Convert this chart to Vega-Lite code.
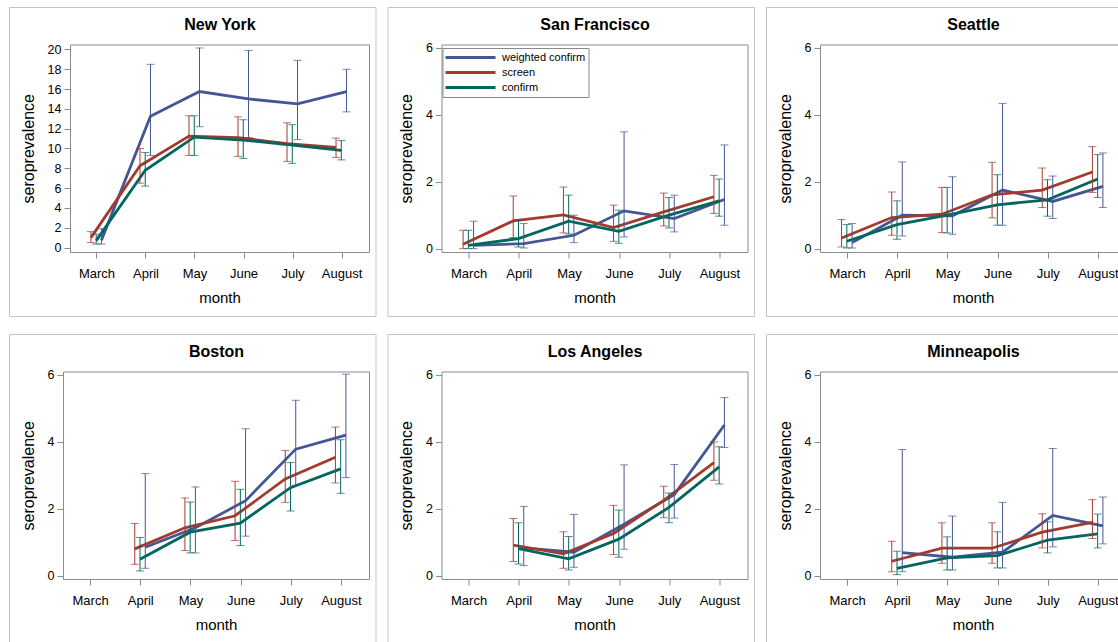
{
  "$schema": "https://vega.github.io/schema/vega-lite/v6.json",
  "description": "Seroprevalence by month and city",
  "padding": {"left": 8, "top": 6, "right": 0, "bottom": 0},
  "background": "white",
  "datasets": {
    "sero": [
      {"city": "New York", "month": "March", "series": "weighted confirm", "v": 0.75, "lo": 0.35, "hi": 1.9},
      {"city": "New York", "month": "April", "series": "weighted confirm", "v": 13.25, "lo": 9.3, "hi": 18.5},
      {"city": "New York", "month": "May", "series": "weighted confirm", "v": 15.75, "lo": 12.2, "hi": 20.15},
      {"city": "New York", "month": "June", "series": "weighted confirm", "v": 15.0, "lo": 11.1, "hi": 19.9},
      {"city": "New York", "month": "July", "series": "weighted confirm", "v": 14.5, "lo": 10.9, "hi": 18.9},
      {"city": "New York", "month": "August", "series": "weighted confirm", "v": 15.75, "lo": 13.7, "hi": 18.0},
      {"city": "New York", "month": "March", "series": "screen", "v": 1.0, "lo": 0.5, "hi": 1.6},
      {"city": "New York", "month": "April", "series": "screen", "v": 8.25, "lo": 6.5, "hi": 10.0},
      {"city": "New York", "month": "May", "series": "screen", "v": 11.25, "lo": 9.3, "hi": 13.3},
      {"city": "New York", "month": "June", "series": "screen", "v": 11.1, "lo": 9.2, "hi": 13.2},
      {"city": "New York", "month": "July", "series": "screen", "v": 10.5, "lo": 8.7, "hi": 12.6},
      {"city": "New York", "month": "August", "series": "screen", "v": 10.1, "lo": 9.1, "hi": 11.05},
      {"city": "New York", "month": "March", "series": "confirm", "v": 0.7, "lo": 0.35, "hi": 1.35},
      {"city": "New York", "month": "April", "series": "confirm", "v": 7.8, "lo": 6.2, "hi": 9.6},
      {"city": "New York", "month": "May", "series": "confirm", "v": 11.15, "lo": 9.3, "hi": 13.3},
      {"city": "New York", "month": "June", "series": "confirm", "v": 10.85, "lo": 9.0, "hi": 12.9},
      {"city": "New York", "month": "July", "series": "confirm", "v": 10.35, "lo": 8.5, "hi": 12.4},
      {"city": "New York", "month": "August", "series": "confirm", "v": 9.8, "lo": 8.85, "hi": 10.8},

      {"city": "San Francisco", "month": "March", "series": "weighted confirm", "v": 0.1, "lo": 0.0, "hi": 0.82},
      {"city": "San Francisco", "month": "April", "series": "weighted confirm", "v": 0.15, "lo": 0.02, "hi": 0.75},
      {"city": "San Francisco", "month": "May", "series": "weighted confirm", "v": 0.4, "lo": 0.18, "hi": 1.0},
      {"city": "San Francisco", "month": "June", "series": "weighted confirm", "v": 1.13, "lo": 0.35, "hi": 3.49},
      {"city": "San Francisco", "month": "July", "series": "weighted confirm", "v": 0.9, "lo": 0.5, "hi": 1.6},
      {"city": "San Francisco", "month": "August", "series": "weighted confirm", "v": 1.47, "lo": 0.7, "hi": 3.1},
      {"city": "San Francisco", "month": "March", "series": "screen", "v": 0.13, "lo": 0.0, "hi": 0.55},
      {"city": "San Francisco", "month": "April", "series": "screen", "v": 0.83, "lo": 0.33, "hi": 1.57},
      {"city": "San Francisco", "month": "May", "series": "screen", "v": 1.01, "lo": 0.47, "hi": 1.84},
      {"city": "San Francisco", "month": "June", "series": "screen", "v": 0.63, "lo": 0.22, "hi": 1.3},
      {"city": "San Francisco", "month": "July", "series": "screen", "v": 1.1, "lo": 0.68, "hi": 1.66},
      {"city": "San Francisco", "month": "August", "series": "screen", "v": 1.55, "lo": 1.05, "hi": 2.19},
      {"city": "San Francisco", "month": "March", "series": "confirm", "v": 0.1, "lo": 0.0, "hi": 0.55},
      {"city": "San Francisco", "month": "April", "series": "confirm", "v": 0.3, "lo": 0.05, "hi": 0.87},
      {"city": "San Francisco", "month": "May", "series": "confirm", "v": 0.82, "lo": 0.44, "hi": 1.6},
      {"city": "San Francisco", "month": "June", "series": "confirm", "v": 0.52, "lo": 0.16, "hi": 1.15},
      {"city": "San Francisco", "month": "July", "series": "confirm", "v": 1.0, "lo": 0.62, "hi": 1.53},
      {"city": "San Francisco", "month": "August", "series": "confirm", "v": 1.43, "lo": 0.97, "hi": 2.08},

      {"city": "Seattle", "month": "March", "series": "weighted confirm", "v": 0.18, "lo": 0.02, "hi": 0.75},
      {"city": "Seattle", "month": "April", "series": "weighted confirm", "v": 1.0, "lo": 0.38, "hi": 2.59},
      {"city": "Seattle", "month": "May", "series": "weighted confirm", "v": 0.98, "lo": 0.43, "hi": 2.15},
      {"city": "Seattle", "month": "June", "series": "weighted confirm", "v": 1.75, "lo": 0.7, "hi": 4.34},
      {"city": "Seattle", "month": "July", "series": "weighted confirm", "v": 1.41, "lo": 0.9, "hi": 2.17},
      {"city": "Seattle", "month": "August", "series": "weighted confirm", "v": 1.86, "lo": 1.23, "hi": 2.86},
      {"city": "Seattle", "month": "March", "series": "screen", "v": 0.32, "lo": 0.05, "hi": 0.87},
      {"city": "Seattle", "month": "April", "series": "screen", "v": 0.93, "lo": 0.4, "hi": 1.69},
      {"city": "Seattle", "month": "May", "series": "screen", "v": 1.03, "lo": 0.48, "hi": 1.83},
      {"city": "Seattle", "month": "June", "series": "screen", "v": 1.61, "lo": 0.92, "hi": 2.58},
      {"city": "Seattle", "month": "July", "series": "screen", "v": 1.75, "lo": 1.23, "hi": 2.41},
      {"city": "Seattle", "month": "August", "series": "screen", "v": 2.29, "lo": 1.68, "hi": 3.05},
      {"city": "Seattle", "month": "March", "series": "confirm", "v": 0.22, "lo": 0.02, "hi": 0.72},
      {"city": "Seattle", "month": "April", "series": "confirm", "v": 0.72, "lo": 0.28, "hi": 1.43},
      {"city": "Seattle", "month": "May", "series": "confirm", "v": 1.0, "lo": 0.47, "hi": 1.83},
      {"city": "Seattle", "month": "June", "series": "confirm", "v": 1.31, "lo": 0.7, "hi": 2.21},
      {"city": "Seattle", "month": "July", "series": "confirm", "v": 1.46, "lo": 0.97, "hi": 2.06},
      {"city": "Seattle", "month": "August", "series": "confirm", "v": 2.08, "lo": 1.53, "hi": 2.81},

      {"city": "Boston", "month": "April", "series": "weighted confirm", "v": 0.85, "lo": 0.22, "hi": 3.05},
      {"city": "Boston", "month": "May", "series": "weighted confirm", "v": 1.43, "lo": 0.68, "hi": 2.65},
      {"city": "Boston", "month": "June", "series": "weighted confirm", "v": 2.24, "lo": 1.18, "hi": 4.39},
      {"city": "Boston", "month": "July", "series": "weighted confirm", "v": 3.78, "lo": 2.7, "hi": 5.24},
      {"city": "Boston", "month": "August", "series": "weighted confirm", "v": 4.2, "lo": 2.93, "hi": 6.02},
      {"city": "Boston", "month": "April", "series": "screen", "v": 0.8, "lo": 0.34, "hi": 1.56},
      {"city": "Boston", "month": "May", "series": "screen", "v": 1.43, "lo": 0.75, "hi": 2.32},
      {"city": "Boston", "month": "June", "series": "screen", "v": 1.79, "lo": 1.05, "hi": 2.82},
      {"city": "Boston", "month": "July", "series": "screen", "v": 2.89, "lo": 2.19, "hi": 3.74},
      {"city": "Boston", "month": "August", "series": "screen", "v": 3.54, "lo": 2.77, "hi": 4.44},
      {"city": "Boston", "month": "April", "series": "confirm", "v": 0.49, "lo": 0.14, "hi": 1.14},
      {"city": "Boston", "month": "May", "series": "confirm", "v": 1.3, "lo": 0.68, "hi": 2.2},
      {"city": "Boston", "month": "June", "series": "confirm", "v": 1.57, "lo": 0.9, "hi": 2.58},
      {"city": "Boston", "month": "July", "series": "confirm", "v": 2.63, "lo": 1.93, "hi": 3.38},
      {"city": "Boston", "month": "August", "series": "confirm", "v": 3.19, "lo": 2.46, "hi": 4.06},

      {"city": "Los Angeles", "month": "April", "series": "weighted confirm", "v": 0.83, "lo": 0.3, "hi": 2.07},
      {"city": "Los Angeles", "month": "May", "series": "weighted confirm", "v": 0.7, "lo": 0.25, "hi": 1.83},
      {"city": "Los Angeles", "month": "June", "series": "weighted confirm", "v": 1.54, "lo": 0.79, "hi": 3.31},
      {"city": "Los Angeles", "month": "July", "series": "weighted confirm", "v": 2.42, "lo": 1.72, "hi": 3.32},
      {"city": "Los Angeles", "month": "August", "series": "weighted confirm", "v": 4.5, "lo": 3.83, "hi": 5.32},
      {"city": "Los Angeles", "month": "April", "series": "screen", "v": 0.91, "lo": 0.42, "hi": 1.71},
      {"city": "Los Angeles", "month": "May", "series": "screen", "v": 0.65, "lo": 0.22, "hi": 1.31},
      {"city": "Los Angeles", "month": "June", "series": "screen", "v": 1.26, "lo": 0.63, "hi": 2.1},
      {"city": "Los Angeles", "month": "July", "series": "screen", "v": 2.25, "lo": 1.73, "hi": 2.67},
      {"city": "Los Angeles", "month": "August", "series": "screen", "v": 3.38, "lo": 2.85, "hi": 4.0},
      {"city": "Los Angeles", "month": "April", "series": "confirm", "v": 0.81, "lo": 0.35, "hi": 1.58},
      {"city": "Los Angeles", "month": "May", "series": "confirm", "v": 0.5, "lo": 0.17, "hi": 1.17},
      {"city": "Los Angeles", "month": "June", "series": "confirm", "v": 1.09, "lo": 0.55, "hi": 1.96},
      {"city": "Los Angeles", "month": "July", "series": "confirm", "v": 2.04, "lo": 1.58, "hi": 2.47},
      {"city": "Los Angeles", "month": "August", "series": "confirm", "v": 3.25, "lo": 2.74, "hi": 3.85},

      {"city": "Minneapolis", "month": "April", "series": "weighted confirm", "v": 0.69, "lo": 0.12, "hi": 3.77},
      {"city": "Minneapolis", "month": "May", "series": "weighted confirm", "v": 0.55, "lo": 0.17, "hi": 1.78},
      {"city": "Minneapolis", "month": "June", "series": "weighted confirm", "v": 0.7, "lo": 0.23, "hi": 2.19},
      {"city": "Minneapolis", "month": "July", "series": "weighted confirm", "v": 1.8, "lo": 0.86, "hi": 3.8},
      {"city": "Minneapolis", "month": "August", "series": "weighted confirm", "v": 1.49, "lo": 0.95, "hi": 2.35},
      {"city": "Minneapolis", "month": "April", "series": "screen", "v": 0.43, "lo": 0.12, "hi": 1.03},
      {"city": "Minneapolis", "month": "May", "series": "screen", "v": 0.82, "lo": 0.37, "hi": 1.58},
      {"city": "Minneapolis", "month": "June", "series": "screen", "v": 0.82, "lo": 0.37, "hi": 1.58},
      {"city": "Minneapolis", "month": "July", "series": "screen", "v": 1.3, "lo": 0.83, "hi": 1.85},
      {"city": "Minneapolis", "month": "August", "series": "screen", "v": 1.59, "lo": 1.11, "hi": 2.27},
      {"city": "Minneapolis", "month": "April", "series": "confirm", "v": 0.22, "lo": 0.03, "hi": 0.73},
      {"city": "Minneapolis", "month": "May", "series": "confirm", "v": 0.53, "lo": 0.17, "hi": 1.16},
      {"city": "Minneapolis", "month": "June", "series": "confirm", "v": 0.6, "lo": 0.23, "hi": 1.31},
      {"city": "Minneapolis", "month": "July", "series": "confirm", "v": 1.06, "lo": 0.68, "hi": 1.61},
      {"city": "Minneapolis", "month": "August", "series": "confirm", "v": 1.25, "lo": 0.83, "hi": 1.84}
    ]
  },
  "data": {"name": "sero"},
  "columns": 3,
  "spacing": {"row": 16, "column": 10.5},
  "concat": [
    {
      "width": 366.5, "height": 309,
      "transform": [{"filter": "datum.city == 'New York'"}],
      "layer": [
        {"mark": {"type": "line", "strokeWidth": 2.8},
         "encoding": {
           "x": {"field": "month", "type": "ordinal", "sort": ["March", "April", "May", "June", "July", "August"], "scale": {"type": "band", "domain": ["March", "April", "May", "June", "July", "August"], "range": [61, 360], "paddingInner": 1, "paddingOuter": 0.55}, "axis": {"orient": "bottom", "offset": -64, "title": "month", "labelAngle": 0}},
           "xOffset": {"field": "series", "scale": {"type": "band", "domain": ["screen", "confirm", "weighted confirm"], "range": [-6, 4.5], "paddingInner": 1, "paddingOuter": 0}},
           "y": {"field": "v", "type": "quantitative", "scale": {"domain": [-0.45, 20.5], "range": [245, 37.5], "nice": false, "zero": false}, "axis": {"orient": "left", "offset": -61, "values": [0, 2, 4, 6, 8, 10, 12, 14, 16, 18, 20], "title": "seroprevalence"}},
           "color": {"field": "series", "type": "nominal", "scale": {"domain": ["weighted confirm", "screen", "confirm"], "range": ["#445694", "#A23A2E", "#01665E"]}, "legend": null}
         }},
        {"mark": {"type": "rule", "strokeWidth": 1},
         "encoding": {
           "x": {"field": "month", "type": "ordinal", "sort": ["March", "April", "May", "June", "July", "August"], "scale": {"type": "band", "domain": ["March", "April", "May", "June", "July", "August"], "range": [61, 360], "paddingInner": 1, "paddingOuter": 0.55}, "axis": {"orient": "top", "offset": -37.5, "labels": false, "ticks": false, "title": "New York", "titleFontSize": 16, "titleFontWeight": "bold", "titlePadding": 12}},
           "xOffset": {"field": "series", "scale": {"type": "band", "domain": ["screen", "confirm", "weighted confirm"], "range": [-6, 4.5], "paddingInner": 1, "paddingOuter": 0}},
           "y": {"field": "lo", "type": "quantitative", "axis": {"orient": "right", "offset": -6.5, "labels": false, "ticks": false, "title": null}},
           "y2": {"field": "hi"},
           "color": {"field": "series", "type": "nominal", "legend": null}
         }},
        {"mark": {"type": "tick", "orient": "horizontal", "size": 8, "thickness": 1},
         "encoding": {
           "x": {"field": "month", "type": "ordinal", "sort": ["March", "April", "May", "June", "July", "August"], "scale": {"type": "band", "domain": ["March", "April", "May", "June", "July", "August"], "range": [61, 360], "paddingInner": 1, "paddingOuter": 0.55}, "axis": null},
           "xOffset": {"field": "series", "scale": {"type": "band", "domain": ["screen", "confirm", "weighted confirm"], "range": [-6, 4.5], "paddingInner": 1, "paddingOuter": 0}},
           "y": {"field": "lo", "type": "quantitative", "axis": null},
           "color": {"field": "series", "type": "nominal", "legend": null}
         }},
        {"mark": {"type": "tick", "orient": "horizontal", "size": 8, "thickness": 1},
         "encoding": {
           "x": {"field": "month", "type": "ordinal", "sort": ["March", "April", "May", "June", "July", "August"], "scale": {"type": "band", "domain": ["March", "April", "May", "June", "July", "August"], "range": [61, 360], "paddingInner": 1, "paddingOuter": 0.55}, "axis": null},
           "xOffset": {"field": "series", "scale": {"type": "band", "domain": ["screen", "confirm", "weighted confirm"], "range": [-6, 4.5], "paddingInner": 1, "paddingOuter": 0}},
           "y": {"field": "hi", "type": "quantitative", "axis": null},
           "color": {"field": "series", "type": "nominal", "legend": null}
         }}
      ],
      "resolve": {"axis": {"x": "independent", "y": "independent"}}
    },
    {
      "width": 366.5, "height": 309,
      "transform": [{"filter": "datum.city == 'San Francisco'"}],
      "layer": [
        {"mark": {"type": "line", "strokeWidth": 2.8},
         "encoding": {
           "x": {"field": "month", "type": "ordinal", "sort": ["March", "April", "May", "June", "July", "August"], "scale": {"type": "band", "domain": ["March", "April", "May", "June", "July", "August"], "range": [54, 360], "paddingInner": 1, "paddingOuter": 0.55}, "axis": {"orient": "bottom", "offset": -64, "title": "month", "labelAngle": 0}},
           "xOffset": {"field": "series", "scale": {"type": "band", "domain": ["screen", "confirm", "weighted confirm"], "range": [-6, 4.5], "paddingInner": 1, "paddingOuter": 0}},
           "y": {"field": "v", "type": "quantitative", "scale": {"domain": [-0.1, 6.1], "range": [245, 37.5], "nice": false, "zero": false}, "axis": {"orient": "left", "offset": -54, "values": [0, 2, 4, 6], "title": "seroprevalence"}},
           "color": {"field": "series", "type": "nominal", "scale": {"domain": ["weighted confirm", "screen", "confirm"], "range": ["#445694", "#A23A2E", "#01665E"]},
             "legend": {"orient": "none", "legendX": 55, "legendY": 41, "title": null, "direction": "vertical", "strokeColor": "#8a8a8a", "padding": 3, "rowPadding": 2, "symbolType": "M-5,0H5", "symbolSize": 100, "symbolStrokeWidth": 3, "symbolOffset": 18.5, "labelOffset": 25, "labelFontSize": 11, "labelColor": "#000"}}
         }},
        {"mark": {"type": "rule", "strokeWidth": 1},
         "encoding": {
           "x": {"field": "month", "type": "ordinal", "sort": ["March", "April", "May", "June", "July", "August"], "scale": {"type": "band", "domain": ["March", "April", "May", "June", "July", "August"], "range": [54, 360], "paddingInner": 1, "paddingOuter": 0.55}, "axis": {"orient": "top", "offset": -37.5, "labels": false, "ticks": false, "title": "San Francisco", "titleFontSize": 16, "titleFontWeight": "bold", "titlePadding": 12}},
           "xOffset": {"field": "series", "scale": {"type": "band", "domain": ["screen", "confirm", "weighted confirm"], "range": [-6, 4.5], "paddingInner": 1, "paddingOuter": 0}},
           "y": {"field": "lo", "type": "quantitative", "axis": {"orient": "right", "offset": -6.5, "labels": false, "ticks": false, "title": null}},
           "y2": {"field": "hi"},
           "color": {"field": "series", "type": "nominal", "legend": null}
         }},
        {"mark": {"type": "tick", "orient": "horizontal", "size": 8, "thickness": 1},
         "encoding": {
           "x": {"field": "month", "type": "ordinal", "sort": ["March", "April", "May", "June", "July", "August"], "scale": {"type": "band", "domain": ["March", "April", "May", "June", "July", "August"], "range": [54, 360], "paddingInner": 1, "paddingOuter": 0.55}, "axis": null},
           "xOffset": {"field": "series", "scale": {"type": "band", "domain": ["screen", "confirm", "weighted confirm"], "range": [-6, 4.5], "paddingInner": 1, "paddingOuter": 0}},
           "y": {"field": "lo", "type": "quantitative", "axis": null},
           "color": {"field": "series", "type": "nominal", "legend": null}
         }},
        {"mark": {"type": "tick", "orient": "horizontal", "size": 8, "thickness": 1},
         "encoding": {
           "x": {"field": "month", "type": "ordinal", "sort": ["March", "April", "May", "June", "July", "August"], "scale": {"type": "band", "domain": ["March", "April", "May", "June", "July", "August"], "range": [54, 360], "paddingInner": 1, "paddingOuter": 0.55}, "axis": null},
           "xOffset": {"field": "series", "scale": {"type": "band", "domain": ["screen", "confirm", "weighted confirm"], "range": [-6, 4.5], "paddingInner": 1, "paddingOuter": 0}},
           "y": {"field": "hi", "type": "quantitative", "axis": null},
           "color": {"field": "series", "type": "nominal", "legend": null}
         }}
      ],
      "resolve": {"axis": {"x": "independent", "y": "independent"}}
    },
    {
      "width": 366.5, "height": 309,
      "transform": [{"filter": "datum.city == 'Seattle'"}],
      "layer": [
        {"mark": {"type": "line", "strokeWidth": 2.8},
         "encoding": {
           "x": {"field": "month", "type": "ordinal", "sort": ["March", "April", "May", "June", "July", "August"], "scale": {"type": "band", "domain": ["March", "April", "May", "June", "July", "August"], "range": [54, 360], "paddingInner": 1, "paddingOuter": 0.55}, "axis": {"orient": "bottom", "offset": -64, "title": "month", "labelAngle": 0}},
           "xOffset": {"field": "series", "scale": {"type": "band", "domain": ["screen", "confirm", "weighted confirm"], "range": [-6, 4.5], "paddingInner": 1, "paddingOuter": 0}},
           "y": {"field": "v", "type": "quantitative", "scale": {"domain": [-0.1, 6.1], "range": [245, 37.5], "nice": false, "zero": false}, "axis": {"orient": "left", "offset": -54, "values": [0, 2, 4, 6], "title": "seroprevalence"}},
           "color": {"field": "series", "type": "nominal", "scale": {"domain": ["weighted confirm", "screen", "confirm"], "range": ["#445694", "#A23A2E", "#01665E"]}, "legend": null}
         }},
        {"mark": {"type": "rule", "strokeWidth": 1},
         "encoding": {
           "x": {"field": "month", "type": "ordinal", "sort": ["March", "April", "May", "June", "July", "August"], "scale": {"type": "band", "domain": ["March", "April", "May", "June", "July", "August"], "range": [54, 360], "paddingInner": 1, "paddingOuter": 0.55}, "axis": {"orient": "top", "offset": -37.5, "labels": false, "ticks": false, "title": "Seattle", "titleFontSize": 16, "titleFontWeight": "bold", "titlePadding": 12}},
           "xOffset": {"field": "series", "scale": {"type": "band", "domain": ["screen", "confirm", "weighted confirm"], "range": [-6, 4.5], "paddingInner": 1, "paddingOuter": 0}},
           "y": {"field": "lo", "type": "quantitative", "axis": {"orient": "right", "offset": -6.5, "labels": false, "ticks": false, "title": null}},
           "y2": {"field": "hi"},
           "color": {"field": "series", "type": "nominal", "legend": null}
         }},
        {"mark": {"type": "tick", "orient": "horizontal", "size": 8, "thickness": 1},
         "encoding": {
           "x": {"field": "month", "type": "ordinal", "sort": ["March", "April", "May", "June", "July", "August"], "scale": {"type": "band", "domain": ["March", "April", "May", "June", "July", "August"], "range": [54, 360], "paddingInner": 1, "paddingOuter": 0.55}, "axis": null},
           "xOffset": {"field": "series", "scale": {"type": "band", "domain": ["screen", "confirm", "weighted confirm"], "range": [-6, 4.5], "paddingInner": 1, "paddingOuter": 0}},
           "y": {"field": "lo", "type": "quantitative", "axis": null},
           "color": {"field": "series", "type": "nominal", "legend": null}
         }},
        {"mark": {"type": "tick", "orient": "horizontal", "size": 8, "thickness": 1},
         "encoding": {
           "x": {"field": "month", "type": "ordinal", "sort": ["March", "April", "May", "June", "July", "August"], "scale": {"type": "band", "domain": ["March", "April", "May", "June", "July", "August"], "range": [54, 360], "paddingInner": 1, "paddingOuter": 0.55}, "axis": null},
           "xOffset": {"field": "series", "scale": {"type": "band", "domain": ["screen", "confirm", "weighted confirm"], "range": [-6, 4.5], "paddingInner": 1, "paddingOuter": 0}},
           "y": {"field": "hi", "type": "quantitative", "axis": null},
           "color": {"field": "series", "type": "nominal", "legend": null}
         }}
      ],
      "resolve": {"axis": {"x": "independent", "y": "independent"}}
    },
    {
      "width": 366.5, "height": 309,
      "transform": [{"filter": "datum.city == 'Boston'"}],
      "layer": [
        {"mark": {"type": "line", "strokeWidth": 2.8},
         "encoding": {
           "x": {"field": "month", "type": "ordinal", "sort": ["March", "April", "May", "June", "July", "August"], "scale": {"type": "band", "domain": ["March", "April", "May", "June", "July", "August"], "range": [54, 360], "paddingInner": 1, "paddingOuter": 0.55}, "axis": {"orient": "bottom", "offset": -64, "title": "month", "labelAngle": 0}},
           "xOffset": {"field": "series", "scale": {"type": "band", "domain": ["screen", "confirm", "weighted confirm"], "range": [-6, 4.5], "paddingInner": 1, "paddingOuter": 0}},
           "y": {"field": "v", "type": "quantitative", "scale": {"domain": [-0.1, 6.1], "range": [245, 37.5], "nice": false, "zero": false}, "axis": {"orient": "left", "offset": -54, "values": [0, 2, 4, 6], "title": "seroprevalence"}},
           "color": {"field": "series", "type": "nominal", "scale": {"domain": ["weighted confirm", "screen", "confirm"], "range": ["#445694", "#A23A2E", "#01665E"]}, "legend": null}
         }},
        {"mark": {"type": "rule", "strokeWidth": 1},
         "encoding": {
           "x": {"field": "month", "type": "ordinal", "sort": ["March", "April", "May", "June", "July", "August"], "scale": {"type": "band", "domain": ["March", "April", "May", "June", "July", "August"], "range": [54, 360], "paddingInner": 1, "paddingOuter": 0.55}, "axis": {"orient": "top", "offset": -37.5, "labels": false, "ticks": false, "title": "Boston", "titleFontSize": 16, "titleFontWeight": "bold", "titlePadding": 12}},
           "xOffset": {"field": "series", "scale": {"type": "band", "domain": ["screen", "confirm", "weighted confirm"], "range": [-6, 4.5], "paddingInner": 1, "paddingOuter": 0}},
           "y": {"field": "lo", "type": "quantitative", "axis": {"orient": "right", "offset": -6.5, "labels": false, "ticks": false, "title": null}},
           "y2": {"field": "hi"},
           "color": {"field": "series", "type": "nominal", "legend": null}
         }},
        {"mark": {"type": "tick", "orient": "horizontal", "size": 8, "thickness": 1},
         "encoding": {
           "x": {"field": "month", "type": "ordinal", "sort": ["March", "April", "May", "June", "July", "August"], "scale": {"type": "band", "domain": ["March", "April", "May", "June", "July", "August"], "range": [54, 360], "paddingInner": 1, "paddingOuter": 0.55}, "axis": null},
           "xOffset": {"field": "series", "scale": {"type": "band", "domain": ["screen", "confirm", "weighted confirm"], "range": [-6, 4.5], "paddingInner": 1, "paddingOuter": 0}},
           "y": {"field": "lo", "type": "quantitative", "axis": null},
           "color": {"field": "series", "type": "nominal", "legend": null}
         }},
        {"mark": {"type": "tick", "orient": "horizontal", "size": 8, "thickness": 1},
         "encoding": {
           "x": {"field": "month", "type": "ordinal", "sort": ["March", "April", "May", "June", "July", "August"], "scale": {"type": "band", "domain": ["March", "April", "May", "June", "July", "August"], "range": [54, 360], "paddingInner": 1, "paddingOuter": 0.55}, "axis": null},
           "xOffset": {"field": "series", "scale": {"type": "band", "domain": ["screen", "confirm", "weighted confirm"], "range": [-6, 4.5], "paddingInner": 1, "paddingOuter": 0}},
           "y": {"field": "hi", "type": "quantitative", "axis": null},
           "color": {"field": "series", "type": "nominal", "legend": null}
         }}
      ],
      "resolve": {"axis": {"x": "independent", "y": "independent"}}
    },
    {
      "width": 366.5, "height": 309,
      "transform": [{"filter": "datum.city == 'Los Angeles'"}],
      "layer": [
        {"mark": {"type": "line", "strokeWidth": 2.8},
         "encoding": {
           "x": {"field": "month", "type": "ordinal", "sort": ["March", "April", "May", "June", "July", "August"], "scale": {"type": "band", "domain": ["March", "April", "May", "June", "July", "August"], "range": [54, 360], "paddingInner": 1, "paddingOuter": 0.55}, "axis": {"orient": "bottom", "offset": -64, "title": "month", "labelAngle": 0}},
           "xOffset": {"field": "series", "scale": {"type": "band", "domain": ["screen", "confirm", "weighted confirm"], "range": [-6, 4.5], "paddingInner": 1, "paddingOuter": 0}},
           "y": {"field": "v", "type": "quantitative", "scale": {"domain": [-0.1, 6.1], "range": [245, 37.5], "nice": false, "zero": false}, "axis": {"orient": "left", "offset": -54, "values": [0, 2, 4, 6], "title": "seroprevalence"}},
           "color": {"field": "series", "type": "nominal", "scale": {"domain": ["weighted confirm", "screen", "confirm"], "range": ["#445694", "#A23A2E", "#01665E"]}, "legend": null}
         }},
        {"mark": {"type": "rule", "strokeWidth": 1},
         "encoding": {
           "x": {"field": "month", "type": "ordinal", "sort": ["March", "April", "May", "June", "July", "August"], "scale": {"type": "band", "domain": ["March", "April", "May", "June", "July", "August"], "range": [54, 360], "paddingInner": 1, "paddingOuter": 0.55}, "axis": {"orient": "top", "offset": -37.5, "labels": false, "ticks": false, "title": "Los Angeles", "titleFontSize": 16, "titleFontWeight": "bold", "titlePadding": 12}},
           "xOffset": {"field": "series", "scale": {"type": "band", "domain": ["screen", "confirm", "weighted confirm"], "range": [-6, 4.5], "paddingInner": 1, "paddingOuter": 0}},
           "y": {"field": "lo", "type": "quantitative", "axis": {"orient": "right", "offset": -6.5, "labels": false, "ticks": false, "title": null}},
           "y2": {"field": "hi"},
           "color": {"field": "series", "type": "nominal", "legend": null}
         }},
        {"mark": {"type": "tick", "orient": "horizontal", "size": 8, "thickness": 1},
         "encoding": {
           "x": {"field": "month", "type": "ordinal", "sort": ["March", "April", "May", "June", "July", "August"], "scale": {"type": "band", "domain": ["March", "April", "May", "June", "July", "August"], "range": [54, 360], "paddingInner": 1, "paddingOuter": 0.55}, "axis": null},
           "xOffset": {"field": "series", "scale": {"type": "band", "domain": ["screen", "confirm", "weighted confirm"], "range": [-6, 4.5], "paddingInner": 1, "paddingOuter": 0}},
           "y": {"field": "lo", "type": "quantitative", "axis": null},
           "color": {"field": "series", "type": "nominal", "legend": null}
         }},
        {"mark": {"type": "tick", "orient": "horizontal", "size": 8, "thickness": 1},
         "encoding": {
           "x": {"field": "month", "type": "ordinal", "sort": ["March", "April", "May", "June", "July", "August"], "scale": {"type": "band", "domain": ["March", "April", "May", "June", "July", "August"], "range": [54, 360], "paddingInner": 1, "paddingOuter": 0.55}, "axis": null},
           "xOffset": {"field": "series", "scale": {"type": "band", "domain": ["screen", "confirm", "weighted confirm"], "range": [-6, 4.5], "paddingInner": 1, "paddingOuter": 0}},
           "y": {"field": "hi", "type": "quantitative", "axis": null},
           "color": {"field": "series", "type": "nominal", "legend": null}
         }}
      ],
      "resolve": {"axis": {"x": "independent", "y": "independent"}}
    },
    {
      "width": 366.5, "height": 309,
      "transform": [{"filter": "datum.city == 'Minneapolis'"}],
      "layer": [
        {"mark": {"type": "line", "strokeWidth": 2.8},
         "encoding": {
           "x": {"field": "month", "type": "ordinal", "sort": ["March", "April", "May", "June", "July", "August"], "scale": {"type": "band", "domain": ["March", "April", "May", "June", "July", "August"], "range": [54, 360], "paddingInner": 1, "paddingOuter": 0.55}, "axis": {"orient": "bottom", "offset": -64, "title": "month", "labelAngle": 0}},
           "xOffset": {"field": "series", "scale": {"type": "band", "domain": ["screen", "confirm", "weighted confirm"], "range": [-6, 4.5], "paddingInner": 1, "paddingOuter": 0}},
           "y": {"field": "v", "type": "quantitative", "scale": {"domain": [-0.1, 6.1], "range": [245, 37.5], "nice": false, "zero": false}, "axis": {"orient": "left", "offset": -54, "values": [0, 2, 4, 6], "title": "seroprevalence"}},
           "color": {"field": "series", "type": "nominal", "scale": {"domain": ["weighted confirm", "screen", "confirm"], "range": ["#445694", "#A23A2E", "#01665E"]}, "legend": null}
         }},
        {"mark": {"type": "rule", "strokeWidth": 1},
         "encoding": {
           "x": {"field": "month", "type": "ordinal", "sort": ["March", "April", "May", "June", "July", "August"], "scale": {"type": "band", "domain": ["March", "April", "May", "June", "July", "August"], "range": [54, 360], "paddingInner": 1, "paddingOuter": 0.55}, "axis": {"orient": "top", "offset": -37.5, "labels": false, "ticks": false, "title": "Minneapolis", "titleFontSize": 16, "titleFontWeight": "bold", "titlePadding": 12}},
           "xOffset": {"field": "series", "scale": {"type": "band", "domain": ["screen", "confirm", "weighted confirm"], "range": [-6, 4.5], "paddingInner": 1, "paddingOuter": 0}},
           "y": {"field": "lo", "type": "quantitative", "axis": {"orient": "right", "offset": -6.5, "labels": false, "ticks": false, "title": null}},
           "y2": {"field": "hi"},
           "color": {"field": "series", "type": "nominal", "legend": null}
         }},
        {"mark": {"type": "tick", "orient": "horizontal", "size": 8, "thickness": 1},
         "encoding": {
           "x": {"field": "month", "type": "ordinal", "sort": ["March", "April", "May", "June", "July", "August"], "scale": {"type": "band", "domain": ["March", "April", "May", "June", "July", "August"], "range": [54, 360], "paddingInner": 1, "paddingOuter": 0.55}, "axis": null},
           "xOffset": {"field": "series", "scale": {"type": "band", "domain": ["screen", "confirm", "weighted confirm"], "range": [-6, 4.5], "paddingInner": 1, "paddingOuter": 0}},
           "y": {"field": "lo", "type": "quantitative", "axis": null},
           "color": {"field": "series", "type": "nominal", "legend": null}
         }},
        {"mark": {"type": "tick", "orient": "horizontal", "size": 8, "thickness": 1},
         "encoding": {
           "x": {"field": "month", "type": "ordinal", "sort": ["March", "April", "May", "June", "July", "August"], "scale": {"type": "band", "domain": ["March", "April", "May", "June", "July", "August"], "range": [54, 360], "paddingInner": 1, "paddingOuter": 0.55}, "axis": null},
           "xOffset": {"field": "series", "scale": {"type": "band", "domain": ["screen", "confirm", "weighted confirm"], "range": [-6, 4.5], "paddingInner": 1, "paddingOuter": 0}},
           "y": {"field": "hi", "type": "quantitative", "axis": null},
           "color": {"field": "series", "type": "nominal", "legend": null}
         }}
      ],
      "resolve": {"axis": {"x": "independent", "y": "independent"}}
    }
  ],
  "resolve": {"scale": {"color": "independent", "x": "independent", "y": "independent", "xOffset": "independent"}, "legend": {"color": "independent"}},
  "config": {
    "view": {"stroke": "#c4c4c4", "strokeWidth": 1},
    "font": "Liberation Sans",
    "axis": {
      "grid": false,
      "domainColor": "#8c8c8c",
      "tickColor": "#8c8c8c",
      "labelColor": "#000",
      "titleColor": "#000",
      "labelFont": "Liberation Sans",
      "titleFont": "Liberation Sans",
      "labelFontSize": 13,
      "titleFontSize": 15,
      "titleFontWeight": "normal",
      "tickSize": 6
    },
    "axisLeft": {"titlePadding": 11, "labelFontSize": 12.5, "titleFontSize": 16, "labelPadding": 3},
    "axisBottom": {"titlePadding": 10, "labelPadding": 9},
    "legend": {"labelFont": "Liberation Sans"}
  }
}
